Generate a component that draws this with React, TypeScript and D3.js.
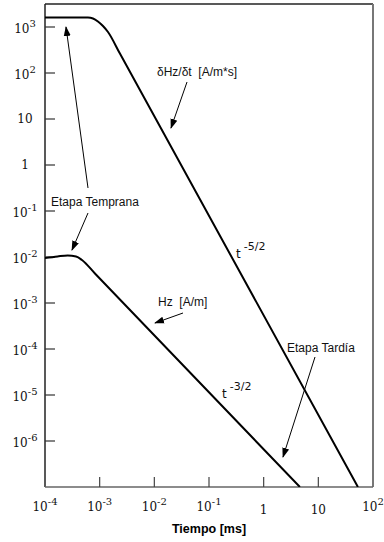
import { useEffect, useRef } from "react";
import * as d3 from "d3";

const width = 384;
const height = 542;
const margin = { top: 4, right: 10, bottom: 55, left: 45 };

// dHz/dt curve (A/m*s)
const dbdtTimes = [1e-4, 6.1e-4, 7.55e-4, 9.3e-4, 1.15e-3, 1.42e-3, 2.36e-3, 53];
const dbdtValues = [1600, 1600, 1530, 1320, 1050, 778, 261, 1e-7];

// Hz curve (A/m)
const hzTimes = [1e-4, 1.7e-4, 2.6e-4, 3.7e-4, 4.75e-4, 8.2e-4, 4.6];
const hzValues = [0.0095, 0.0103, 0.0108, 0.0103, 0.0086, 0.00438, 1e-7];

const xTicks = [1e-4, 1e-3, 1e-2, 1e-1, 1, 10, 100];
const xTickBase = ["10", "10", "10", "10", "1", "10", "10"];
const xTickExp = ["-4", "-3", "-2", "-1", "", "", "2"];

const yTicks = [1e3, 1e2, 10, 1, 1e-1, 1e-2, 1e-3, 1e-4, 1e-5, 1e-6];
const yTickBase = ["10", "10", "10", "1", "10", "10", "10", "10", "10", "10"];
const yTickExp = ["3", "2", "", "", "-1", "-2", "-3", "-4", "-5", "-6"];

const serif = "'DejaVu Serif', serif";
const sans = "'Liberation Sans', Arial, sans-serif";

const App = () => {
  const ref = useRef<SVGSVGElement>(null);

  useEffect(() => {
    const svg = d3.select(ref.current);
    svg.selectAll("*").remove();

    const x = d3.scaleLog().domain([1e-4, 1e2]).range([margin.left, width - margin.right - 1]);
    const y = d3.scaleLog().domain([10 ** -7, 10 ** 3.5]).range([height - margin.bottom, margin.top]);

    const x0 = margin.left;
    const x1 = width - margin.right - 1;
    const y0 = margin.top;
    const y1 = height - margin.bottom;

    svg.append("defs").append("marker")
      .attr("id", "arrow")
      .attr("viewBox", "0 0 10 10")
      .attr("refX", 9).attr("refY", 5)
      .attr("markerWidth", 10).attr("markerHeight", 10)
      .attr("markerUnits", "userSpaceOnUse")
      .attr("orient", "auto")
      .append("path")
      .attr("d", "M0,1.5 L10,5 L0,8.5 Z")
      .attr("fill", "#000");

    svg.append("clipPath").attr("id", "plot")
      .append("rect").attr("x", x0).attr("y", y0).attr("width", x1 - x0).attr("height", y1 - y0);

    // frame
    svg.append("line").attr("x1", x0).attr("x2", x0).attr("y1", y0).attr("y2", y1).attr("stroke", "#222").attr("stroke-width", 1.5);
    svg.append("line").attr("x1", x0).attr("x2", x1).attr("y1", y0).attr("y2", y0).attr("stroke", "#222").attr("stroke-width", 1.5);
    svg.append("line").attr("x1", x1).attr("x2", x1).attr("y1", y0).attr("y2", y1).attr("stroke", "#777").attr("stroke-width", 2);
    svg.append("line").attr("x1", x0).attr("x2", x1).attr("y1", y1).attr("y2", y1).attr("stroke", "#666").attr("stroke-width", 1.5);

    // y ticks
    svg.append("g").selectAll("line").data(yTicks).enter().append("line")
      .attr("x1", x0).attr("x2", x0 + 10)
      .attr("y1", d => y(d)).attr("y2", d => y(d))
      .attr("stroke", "#333").attr("stroke-width", 1.2);

    const yl = svg.append("g").selectAll("text").data(yTicks).enter().append("text")
      .attr("x", 25)
      .attr("y", (d, i) => y(d) + (yTickExp[i] ? 6 : 4))
      .attr("text-anchor", "middle")
      .attr("font-family", serif).attr("font-size", 12).attr("fill", "#111");
    yl.append("tspan").text((d, i) => yTickBase[i]);
    yl.append("tspan").attr("dy", -6).attr("font-size", 10)
      .text((d, i) => yTickExp[i]);

    // x ticks
    svg.append("g").selectAll("line").data(xTicks.slice(1, -1)).enter().append("line")
      .attr("x1", d => x(d)).attr("x2", d => x(d))
      .attr("y1", y1).attr("y2", y1 - 10)
      .attr("stroke", "#444").attr("stroke-width", 1.2);

    const xl = svg.append("g").selectAll("text").data(xTicks).enter().append("text")
      .attr("x", d => x(d))
      .attr("y", (d, i) => (xTickExp[i] ? 511 : 514))
      .attr("text-anchor", "middle")
      .attr("font-family", serif).attr("font-size", 12).attr("fill", "#111");
    xl.append("tspan").text((d, i) => xTickBase[i]);
    xl.append("tspan").attr("dy", -6).attr("font-size", 10)
      .text((d, i) => xTickExp[i]);

    svg.append("text")
      .attr("x", 209).attr("y", 533)
      .attr("text-anchor", "middle")
      .attr("font-family", sans).attr("font-weight", "bold").attr("font-size", 12.5)
      .text("Tiempo [ms]");

    // curves
    const line = d3.line<[number, number]>()
      .x(d => x(d[0])).y(d => y(d[1]))
      .curve(d3.curveMonotoneX);

    const g = svg.append("g").attr("clip-path", "url(#plot)");
    g.append("path")
      .datum(dbdtTimes.map((t, i) => [t, dbdtValues[i]] as [number, number]))
      .attr("d", line).attr("fill", "none").attr("stroke", "#000").attr("stroke-width", 2);
    g.append("path")
      .datum(hzTimes.map((t, i) => [t, hzValues[i]] as [number, number]))
      .attr("d", line).attr("fill", "none").attr("stroke", "#000").attr("stroke-width", 2);

    // annotations
    const arrows = [
      [88, 188, 66, 27],
      [88, 213, 72, 250],
      [187, 82, 171, 128],
      [183, 313, 155, 323],
      [315, 357, 283, 457],
    ];
    svg.append("g").selectAll("line").data(arrows).enter().append("line")
      .attr("x1", d => d[0]).attr("y1", d => d[1])
      .attr("x2", d => d[2]).attr("y2", d => d[3])
      .attr("stroke", "#000").attr("stroke-width", 1)
      .attr("marker-end", "url(#arrow)");

    const labels = [
      { x: 51, y: 206, t: "Etapa Temprana" },
      { x: 157, y: 76, t: "δHz/δt\u00a0\u00a0[A/m*s]" },
      { x: 158, y: 306, t: "Hz\u00a0\u00a0[A/m]" },
      { x: 287, y: 352, t: "Etapa Tardía" },
    ];
    svg.append("g").selectAll("text").data(labels).enter().append("text")
      .attr("x", d => d.x).attr("y", d => d.y)
      .attr("font-family", sans).attr("font-size", 12).attr("fill", "#111")
      .text(d => d.t);

    const powers = [
      { x: 236, y: 258, e: "-5/2" },
      { x: 222, y: 398, e: "-3/2" },
    ];
    const pw = svg.append("g").selectAll("text").data(powers).enter().append("text")
      .attr("x", d => d.x).attr("y", d => d.y)
      .attr("font-family", "'DejaVu Sans', sans-serif").attr("font-size", 12).attr("fill", "#111");
    pw.append("tspan").text("t");
    pw.append("tspan").attr("dx", 3).attr("dy", -8).attr("font-size", 11).text(d => d.e);
  }, []);

  return (
    <svg ref={ref} width={width} height={height}
      style={{ position: "absolute", left: 0, top: 0, background: "#fff" }} />
  );
};

export default App;
